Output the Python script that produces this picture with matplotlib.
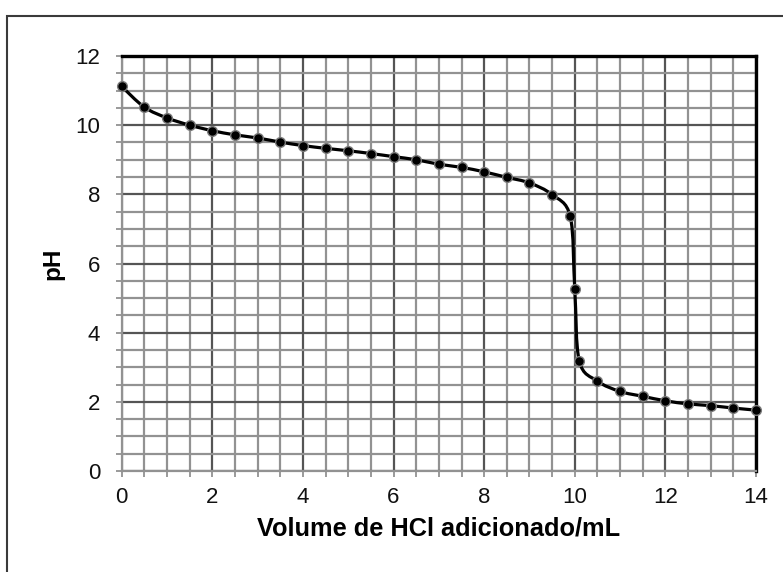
import matplotlib
matplotlib.use("Agg")
import matplotlib.pyplot as plt
from matplotlib.path import Path
from matplotlib.patches import PathPatch, Rectangle
from matplotlib.ticker import MultipleLocator
import numpy as np

volume = [0, 0.5, 1, 1.5, 2, 2.5, 3, 3.5, 4, 4.5, 5, 5.5, 6, 6.5, 7, 7.5, 8, 8.5, 9, 9.5,
          9.9, 10, 10.1, 10.5, 11, 11.5, 12, 12.5, 13, 13.5, 14]
ph = [11.12, 10.52, 10.21, 10.0, 9.84, 9.72, 9.63, 9.51, 9.41, 9.33, 9.26, 9.18, 9.09, 9.0,
      8.87, 8.78, 8.65, 8.49, 8.33, 7.99, 7.36, 5.25, 3.18, 2.60, 2.30, 2.16, 2.03, 1.94,
      1.89, 1.82, 1.76]
xticks = [0, 2, 4, 6, 8, 10, 12, 14]
yticks = [0, 2, 4, 6, 8, 10, 12]
xlabel = "Volume de HCl adicionado/mL"
ylabel = "pH"

plt.rcParams['font.family'] = ['Liberation Sans', 'DejaVu Sans']

W, H = 783, 572
fig = plt.figure(figsize=(W / 100, H / 100), dpi=100)
ax = fig.add_axes([121.7 / W, 1 - 471 / H, (756 - 121.7) / W, (471 - 56) / H])
ax.set_xlim(0, 14)
ax.set_ylim(0, 12)

# grid
ax.xaxis.set_major_locator(MultipleLocator(2))
ax.yaxis.set_major_locator(MultipleLocator(2))
ax.xaxis.set_minor_locator(MultipleLocator(0.5))
ax.yaxis.set_minor_locator(MultipleLocator(0.5))
ax.grid(which='minor', color='#929292', linewidth=1.6, zorder=0)
ax.grid(which='major', color='#555555', linewidth=1.6, zorder=0)
ax.set_axisbelow(True)

ax.tick_params(which='both', direction='out', color='#929292', width=1.3)
ax.tick_params(which='major', length=4.5, labelsize=16, labelcolor='#111111')
ax.tick_params(which='minor', length=4)
ax.tick_params(axis='x', which='major', pad=7)
ax.tick_params(axis='y', which='major', pad=11)
ax.set_xticks(xticks)
ax.set_yticks(yticks)

for s in ['left', 'bottom']:
    ax.spines[s].set_color('#929292')
    ax.spines[s].set_linewidth(1.6)
for s in ['top', 'right']:
    ax.spines[s].set_color('#000000')
    ax.spines[s].set_linewidth(2.4)

# smoothed line (Catmull-Rom as cubic Bezier)
P = np.column_stack([volume, ph])
n = len(P)
verts = [tuple(P[0])]
codes = [Path.MOVETO]
for i in range(n - 1):
    p0 = P[i - 1] if i > 0 else P[i]
    p1 = P[i]
    p2 = P[i + 1]
    p3 = P[i + 2] if i + 2 < n else P[i + 1]
    c1 = p1 + (p2 - p0) / 6
    c2 = p2 - (p3 - p1) / 6
    verts += [tuple(c1), tuple(c2), tuple(p2)]
    codes += [Path.CURVE4] * 3
ax.add_patch(PathPatch(Path(verts, codes), facecolor='none', edgecolor='black',
                       linewidth=2.3, zorder=3, clip_on=False))
ax.plot(volume, ph, linestyle='none', marker='o', markersize=7.0,
        markerfacecolor='black', markeredgecolor='#7a7a7a', markeredgewidth=1.0,
        zorder=4, clip_on=False)

ax.set_xlabel(xlabel, fontsize=18.3, fontweight='bold', labelpad=6)
ax.set_ylabel(ylabel, fontsize=17.5, fontweight='bold', labelpad=8)

# outer border
fig.patches.append(Rectangle((7 / W, -0.2), 2, (1 - 16 / H) + 0.2, transform=fig.transFigure,
                             facecolor='none', edgecolor='#3a3a3a', linewidth=1.5))

fig.savefig('out.png', dpi=100)
